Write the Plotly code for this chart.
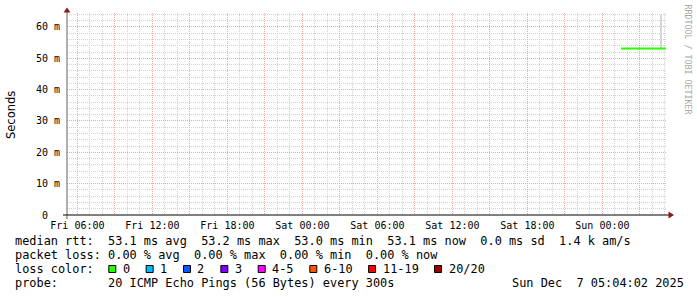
import plotly.graph_objects as go

# ---------------- data ----------------
rtt_times = ["2025-12-07 01:29", "2025-12-07 02:00", "2025-12-07 02:30", "2025-12-07 03:00",
             "2025-12-07 03:30", "2025-12-07 04:00", "2025-12-07 04:30", "2025-12-07 05:05"]
rtt_ms = [53.1, 53.1, 53.1, 53.1, 53.1, 53.1, 53.1, 53.1]

smoke_times = ["2025-12-07 04:41"]
smoke_low = [53.1]
smoke_high = [63.9]

x_start = "2025-12-05 05:10"
x_end = "2025-12-07 05:10"
x_tick_vals = ["2025-12-05 06:00", "2025-12-05 09:00", "2025-12-05 12:00", "2025-12-05 15:00",
               "2025-12-05 18:00", "2025-12-05 21:00", "2025-12-06 00:00", "2025-12-06 03:00",
               "2025-12-06 06:00", "2025-12-06 09:00", "2025-12-06 12:00", "2025-12-06 15:00",
               "2025-12-06 18:00", "2025-12-06 21:00", "2025-12-07 00:00", "2025-12-07 03:00"]
x_tick_text = ["Fri 06:00", "", "Fri 12:00", "", "Fri 18:00", "", "Sat 00:00", "",
               "Sat 06:00", "", "Sat 12:00", "", "Sat 18:00", "", "Sun 00:00", ""]

y_tick_vals = [0, 10, 20, 30, 40, 50, 60]
y_tick_text = ["0  ", "10 m", "20 m", "30 m", "40 m", "50 m", "60 m"]
y_max = 64.45

rtt_line = "median rtt:  53.1 ms avg  53.2 ms max  53.0 ms min  53.1 ms now  0.0 ms sd  1.4 k am/s"
loss_line = "packet loss: 0.00 % avg  0.00 % max  0.00 % min  0.00 % now"
loss_title = "loss color:"
loss_labels = ["0", "1", "2", "3", "4-5", "6-10", "11-19", "20/20"]
loss_colors = ["#26ff00", "#00b8ff", "#0059ff", "#7e00ff", "#ff00ff", "#ff5500", "#ff0000", "#a10000"]
probe_line = "probe:       20 ICMP Echo Pings (56 Bytes) every 300s"
date_text = "Sun Dec  7 05:04:02 2025"
y_title = "Seconds"
watermark = "RRDTOOL / TOBI OETIKER"

# ---------------- layout geometry (pixels) ----------------
FW, FH = 697, 297
L, T, W, H = 67, 13, 600, 202
MONO = "DejaVu Sans Mono"
CW = 7.146  # monospace advance at legend font size


def px(x):
    return (x - L) / W


def py(y):
    return (T + H - y) / H


def nb(s):
    return s.replace(" ", "\u00a0")


fig = go.Figure()

fig.add_trace(go.Bar(
    x=smoke_times, base=smoke_low,
    y=[h - l for h, l in zip(smoke_high, smoke_low)],
    width=600000, marker=dict(color="#d6d6d6", line=dict(width=0)),
    showlegend=False, hoverinfo="skip"))

fig.add_trace(go.Scatter(
    x=rtt_times, y=rtt_ms, mode="lines",
    line=dict(color=loss_colors[0], width=2),
    showlegend=False))

major_grid = "#f0a4a4"
minor_grid = "#d2d2d2"
dash = "1px,1px"

fig.update_layout(
    width=FW, height=FH,
    margin=dict(l=L, r=FW - L - W, t=T, b=FH - T - H, pad=0),
    paper_bgcolor="white", plot_bgcolor="white",
    bargap=0,
    xaxis=dict(
        type="date", range=[x_start, x_end],
        tickmode="array", tickvals=x_tick_vals, ticktext=x_tick_text,
        showgrid=True, gridcolor=major_grid, gridwidth=1, griddash=dash,
        minor=dict(dtick=3600000, tick0="2025-12-05 00:00", showgrid=True,
                   gridcolor=minor_grid, gridwidth=1, griddash=dash),
        ticks="", showline=False, zeroline=False,
        tickfont=dict(family=MONO, size=10, color="black"),
        ticklabelstandoff=3,
    ),
    yaxis=dict(
        range=[0, y_max],
        tickmode="array", tickvals=y_tick_vals, ticktext=[nb(t) for t in y_tick_text],
        showgrid=True, gridcolor=major_grid, gridwidth=1, griddash=dash,
        minor=dict(dtick=2, tick0=0, showgrid=True,
                   gridcolor=minor_grid, gridwidth=1, griddash=dash),
        ticks="", showline=False, zeroline=False,
        tickfont=dict(family=MONO, size=10, color="black"),
        ticklabelstandoff=6,
    ),
)

shapes = []
# y axis line and arrow
shapes.append(dict(type="line", xref="paper", yref="paper",
                   x0=px(67), x1=px(67), y0=py(219), y1=py(11),
                   line=dict(color="#666666", width=1), layer="above"))
shapes.append(dict(type="path", xref="paper", yref="paper",
                   path=f"M {px(67)} {py(7.5)} L {px(70.5)} {py(12.5)} L {px(63.5)} {py(12.5)} Z",
                   fillcolor="#8b1a1a", line=dict(color="#8b1a1a", width=0), layer="above"))
# x axis line and arrow
shapes.append(dict(type="line", xref="paper", yref="paper",
                   x0=px(63), x1=px(669), y0=py(215), y1=py(215),
                   line=dict(color="black", width=1), layer="above"))
shapes.append(dict(type="path", xref="paper", yref="paper",
                   path=f"M {px(674)} {py(215)} L {px(668.5)} {py(211.5)} L {px(668.5)} {py(218.5)} Z",
                   fillcolor="#8b1a1a", line=dict(color="#8b1a1a", width=0), layer="above"))

annotations = []
TX0 = 14.4
legend_font = dict(family=MONO, size=11.9, color="black")


def add_text(text, x, y, **kw):
    annotations.append(dict(text=nb(text), x=px(x), y=py(y), xref="paper", yref="paper",
                            xanchor=kw.get("xanchor", "left"), yanchor="middle",
                            showarrow=False, font=kw.get("font", legend_font),
                            borderpad=0, textangle=kw.get("angle", 0)))


add_text(rtt_line, TX0, 241)
add_text(loss_line, TX0, 255)
add_text(loss_title, TX0, 269)
add_text(probe_line, TX0, 283)
add_text(date_text, 511, 283)

# loss color legend boxes
bx = TX0 + 13 * CW + 1
for lab, col in zip(loss_labels, loss_colors):
    shapes.append(dict(type="rect", xref="paper", yref="paper",
                       x0=px(bx + 0.5), x1=px(bx + 7.5), y0=py(265.5), y1=py(272.5),
                       fillcolor=col, line=dict(color="black", width=1), layer="above"))
    add_text(lab, bx + 13.5, 269)
    bx += 30.2 + len(lab) * CW

add_text(y_title, 11, 115, xanchor="center",
         font=dict(family="DejaVu Sans", size=11.5, color="black"), angle=-90)
add_text(watermark, 687.5, 59, xanchor="center",
         font=dict(family=MONO, size=8.3, color="#a8a8a8"), angle=90)

fig.update_layout(shapes=shapes, annotations=annotations)

fig.write_html("out.html")
